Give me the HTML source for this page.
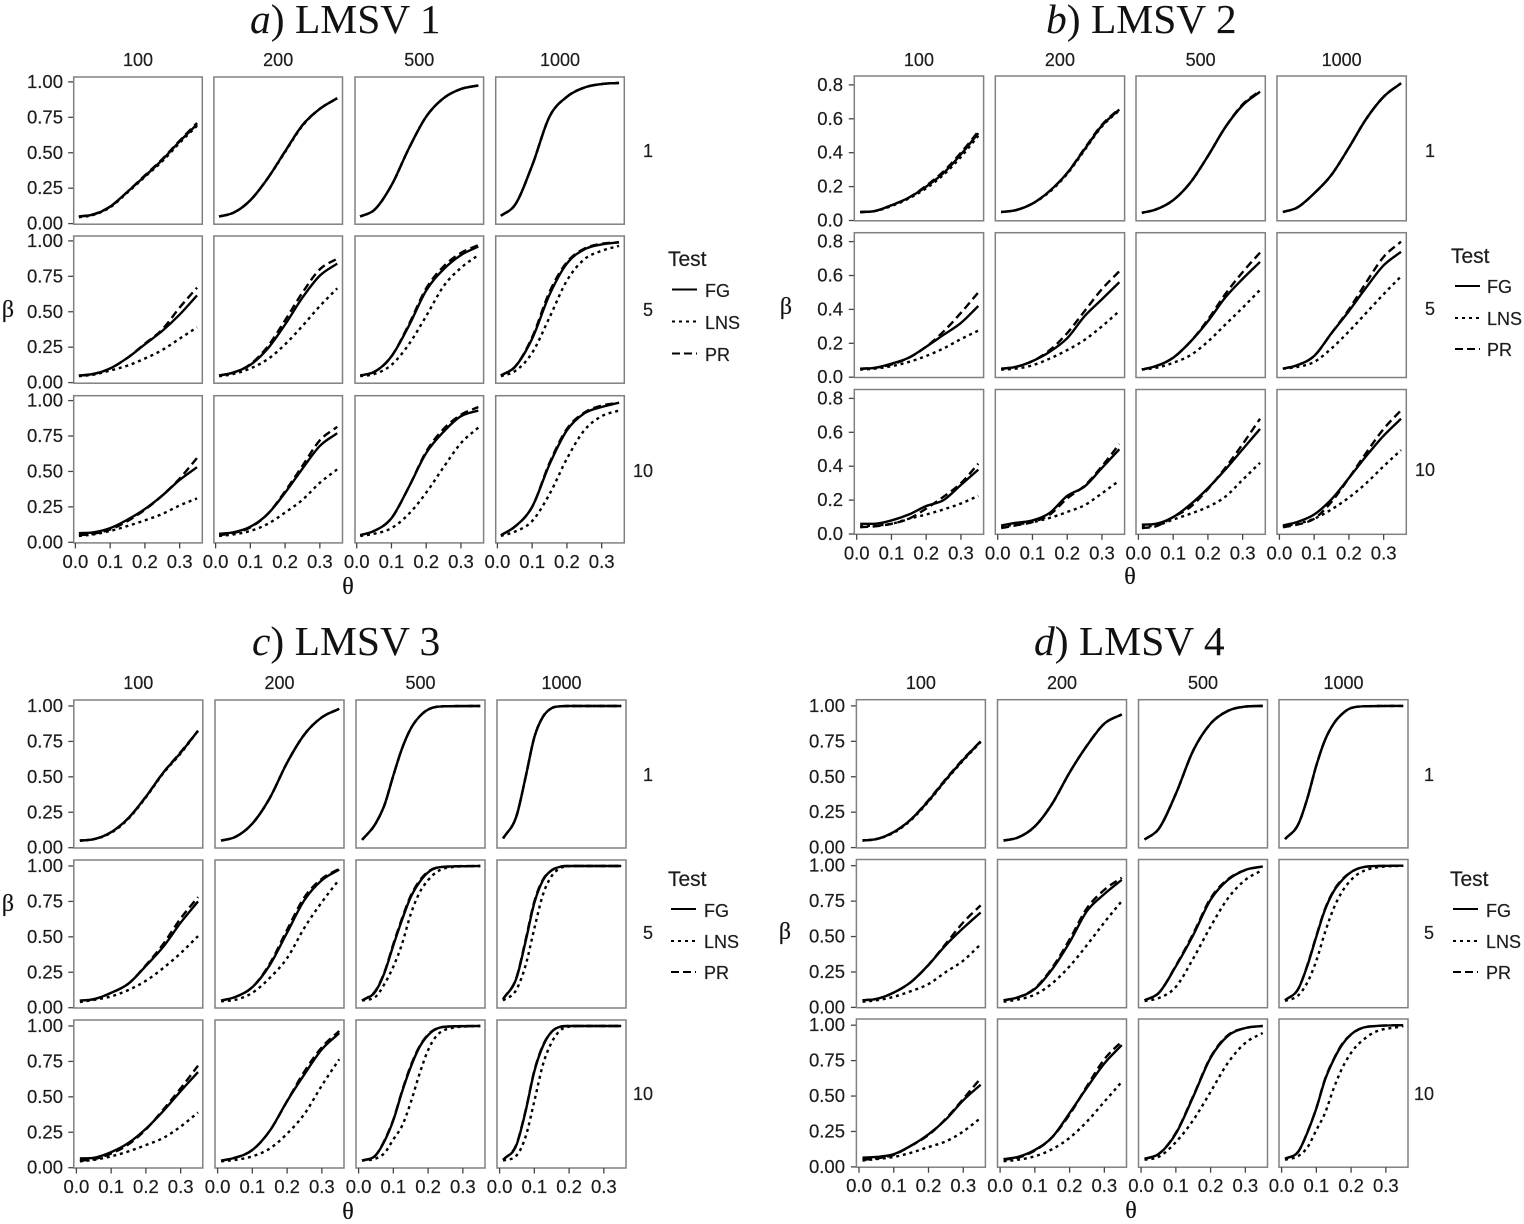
<!DOCTYPE html>
<html lang="en">
<head>
<meta charset="utf-8">
<title>LMSV power curves</title>
<style>
html,body{margin:0;padding:0;background:#fff;}
#chart{display:block;width:1524px;height:1224px;background:#fff;}
text{font-family:"Liberation Sans",sans-serif;fill:#1c1c1c;stroke:#1c1c1c;stroke-width:.2;}
.ttl{font-family:"Liberation Serif",serif;font-size:41.5px;fill:#111;stroke:none;}
.ser{font-family:"Liberation Serif",serif;font-size:24px;fill:#111;}
.leg{font-size:18px;}
.legt{font-size:21px;}
</style>
</head>
<body>
<svg id="chart" xmlns="http://www.w3.org/2000/svg" width="1524" height="1224" viewBox="0 0 1524 1224">
  <text class="ttl" x="250" y="33"><tspan font-style="italic">a</tspan>) LMSV 1</text>
  <text class="ttl" x="1046" y="33"><tspan font-style="italic">b</tspan>) LMSV 2</text>
  <text class="ttl" x="252" y="655"><tspan font-style="italic">c</tspan>) LMSV 3</text>
  <text class="ttl" x="1034" y="655"><tspan font-style="italic">d</tspan>) LMSV 4</text>

  <text class="ser" x="8" y="317" text-anchor="middle">β</text>
  <text class="ser" x="786" y="314" text-anchor="middle">β</text>
  <text class="ser" x="8" y="911" text-anchor="middle">β</text>
  <text class="ser" x="785" y="939" text-anchor="middle">β</text>
  <text class="ser" x="348" y="594" text-anchor="middle">θ</text>
  <text class="ser" x="1130" y="584" text-anchor="middle">θ</text>
  <text class="ser" x="348" y="1219" text-anchor="middle">θ</text>
  <text class="ser" x="1131" y="1218" text-anchor="middle">θ</text>

  <g>
    <text class="legt" x="668" y="266">Test</text>
    <line x1="672" x2="697" y1="289.5" y2="289.5" stroke="#000" stroke-width="2"/>
    <text class="leg" x="705" y="297">FG</text>
    <line x1="672" x2="697" y1="321.5" y2="321.5" stroke="#000" stroke-width="2" stroke-dasharray="3 4"/>
    <text class="leg" x="705" y="329">LNS</text>
    <line x1="672" x2="697" y1="353.5" y2="353.5" stroke="#000" stroke-width="2" stroke-dasharray="8 4"/>
    <text class="leg" x="705" y="361">PR</text>
  </g>
  <g>
    <text class="legt" x="1451" y="263">Test</text>
    <line x1="1455" x2="1480" y1="286" y2="286" stroke="#000" stroke-width="2"/>
    <text class="leg" x="1487" y="293">FG</text>
    <line x1="1455" x2="1480" y1="318" y2="318" stroke="#000" stroke-width="2" stroke-dasharray="3 4"/>
    <text class="leg" x="1487" y="325">LNS</text>
    <line x1="1455" x2="1480" y1="349" y2="349" stroke="#000" stroke-width="2" stroke-dasharray="8 4"/>
    <text class="leg" x="1487" y="356">PR</text>
  </g>
  <g>
    <text class="legt" x="668" y="886">Test</text>
    <line x1="671" x2="696" y1="909" y2="909" stroke="#000" stroke-width="2"/>
    <text class="leg" x="704" y="917">FG</text>
    <line x1="671" x2="696" y1="941" y2="941" stroke="#000" stroke-width="2" stroke-dasharray="3 4"/>
    <text class="leg" x="704" y="948">LNS</text>
    <line x1="671" x2="696" y1="972" y2="972" stroke="#000" stroke-width="2" stroke-dasharray="8 4"/>
    <text class="leg" x="704" y="979">PR</text>
  </g>
  <g>
    <text class="legt" x="1450" y="886">Test</text>
    <line x1="1453" x2="1478" y1="909" y2="909" stroke="#000" stroke-width="2"/>
    <text class="leg" x="1486" y="917">FG</text>
    <line x1="1453" x2="1478" y1="941" y2="941" stroke="#000" stroke-width="2" stroke-dasharray="3 4"/>
    <text class="leg" x="1486" y="948">LNS</text>
    <line x1="1453" x2="1478" y1="972" y2="972" stroke="#000" stroke-width="2" stroke-dasharray="8 4"/>
    <text class="leg" x="1486" y="979">PR</text>
  </g>
</svg>
<script>
// Theta grids: series with 8 values use thetaCoarse, series with 10 values use thetaFine.
const thetaCoarse = [0.01,0.05,0.10,0.15,0.20,0.25,0.30,0.35];
const thetaFine = [0.01,0.05,0.075,0.10,0.125,0.15,0.175,0.20,0.25,0.35];
const sampleSizes = ["100","200","500","1000"];
const stationLabels = ["1","5","10"];
const xTicks = [0,0.1,0.2,0.3];
const xTickLabels = ["0.0","0.1","0.2","0.3"];
const yTicksUnit = [0,0.25,0.5,0.75,1];
const yTickLabelsUnit = ["0.00","0.25","0.50","0.75","1.00"];
const yTicksB = [0,0.2,0.4,0.6,0.8];
const yTickLabelsB = ["0.0","0.2","0.4","0.6","0.8"];

// Each array: 12 series, row by row (1, 5, 10), columns 100, 200, 500, 1000.
const aFG = [
[.05,.063,.12,.225,.335,.45,.58,.70],
[.05,.075,.165,.32,.51,.695,.81,.885],
[.05,.095,.27,.53,.755,.885,.95,.975],
[.055,.13,.41,.755,.895,.96,.985,.993],
[.05,.06,.10,.175,.27,.365,.48,.615],
[.05,.07,.125,.24,.41,.60,.755,.84],
[.05,.075,.185,.40,.65,.80,.90,.96],
[.05,.11,.31,.62,.84,.94,.975,.99],
[.065,.07,.10,.16,.235,.33,.44,.53],
[.06,.07,.11,.20,.35,.52,.68,.77],
[.05,.08,.17,.39,.63,.78,.89,.93],
[.05,.11,.25,.55,.79,.91,.955,.985]];
const aLNS = [
[.045,.06,.115,.22,.33,.44,.57,.69],
[.05,.075,.165,.32,.505,.69,.81,.885],
[.05,.095,.27,.53,.755,.885,.95,.975],
[.055,.13,.41,.755,.895,.96,.985,.993],
[.045,.055,.085,.12,.17,.23,.31,.39],
[.045,.06,.10,.165,.27,.40,.54,.665],
[.045,.06,.125,.27,.47,.68,.81,.90],
[.045,.08,.21,.46,.72,.87,.93,.965],
[.045,.055,.08,.115,.155,.20,.26,.31],
[.045,.055,.08,.13,.21,.30,.42,.515],
[.045,.06,.10,.20,.35,.53,.70,.81],
[.045,.075,.15,.34,.59,.79,.89,.93]];
const aPR = [
[.05,.065,.12,.225,.34,.455,.585,.71],
[.05,.075,.165,.32,.51,.695,.81,.885],
[.05,.095,.27,.53,.755,.885,.95,.975],
[.055,.13,.41,.755,.895,.96,.985,.993],
[.05,.06,.10,.175,.275,.375,.53,.67],
[.05,.07,.13,.255,.44,.635,.80,.875],
[.05,.075,.185,.41,.665,.82,.915,.97],
[.05,.11,.32,.64,.85,.945,.98,.99],
[.05,.06,.09,.15,.23,.33,.45,.595],
[.05,.065,.105,.20,.36,.54,.72,.815],
[.05,.08,.17,.39,.64,.80,.90,.955],
[.05,.11,.25,.56,.80,.915,.965,.985]];

const bFG = [
[.05,.055,.09,.135,.20,.28,.39,.515],
[.05,.06,.10,.175,.28,.42,.56,.655],
[.045,.065,.12,.225,.38,.55,.68,.76],
[.05,.075,.16,.27,.43,.60,.73,.81],
[.05,.055,.08,.115,.18,.25,.32,.42],
[.05,.06,.095,.15,.23,.36,.46,.56],
[.045,.065,.115,.21,.33,.47,.58,.68],
[.05,.07,.125,.26,.39,.53,.66,.74],
[.06,.06,.08,.115,.165,.20,.29,.38],
[.05,.065,.08,.125,.225,.28,.39,.50],
[.055,.06,.10,.175,.27,.38,.50,.62],
[.05,.07,.115,.205,.33,.46,.58,.68]];
const bLNS = [
[.05,.055,.085,.13,.19,.27,.375,.50],
[.05,.06,.10,.17,.275,.415,.555,.65],
[.045,.065,.12,.225,.38,.55,.68,.76],
[.05,.075,.16,.27,.43,.60,.73,.81],
[.045,.05,.065,.09,.125,.17,.225,.275],
[.045,.05,.07,.11,.16,.22,.30,.39],
[.045,.055,.085,.13,.21,.31,.41,.515],
[.05,.06,.09,.17,.27,.38,.49,.595],
[.045,.05,.06,.09,.115,.145,.18,.225],
[.045,.055,.07,.095,.13,.17,.24,.315],
[.045,.05,.085,.12,.16,.22,.32,.42],
[.045,.06,.09,.145,.215,.30,.40,.495]];
const bPR = [
[.05,.055,.09,.135,.205,.29,.40,.525],
[.05,.06,.10,.175,.28,.425,.565,.66],
[.045,.065,.12,.225,.38,.55,.685,.765],
[.05,.075,.16,.27,.43,.60,.73,.81],
[.05,.055,.075,.115,.18,.27,.38,.50],
[.05,.06,.095,.16,.26,.39,.52,.625],
[.045,.065,.115,.21,.34,.49,.62,.735],
[.05,.07,.125,.26,.40,.56,.71,.80],
[.04,.045,.06,.09,.15,.22,.30,.415],
[.035,.05,.07,.115,.21,.285,.40,.53],
[.035,.045,.10,.16,.265,.39,.53,.68],
[.04,.055,.09,.19,.33,.48,.62,.73]];

const cFG = [
[.05,.06,.11,.21,.36,.53,.67,.825],
[.05,.075,.17,.35,.60,.80,.92,.98],
[.055,.175,.305,.51,.70,.84,.925,.975,.998,1],
[.065,.235,.50,.78,.925,.985,.998,1,1,1],
[.05,.06,.105,.17,.295,.43,.60,.75],
[.05,.075,.145,.30,.53,.76,.90,.975],
[.05,.12,.25,.44,.62,.78,.885,.955,.995,1],
[.06,.22,.47,.74,.90,.97,.995,1,1,1],
[.065,.07,.11,.175,.275,.40,.54,.675],
[.05,.07,.125,.26,.47,.66,.835,.95],
[.05,.09,.19,.335,.535,.71,.85,.935,.995,1],
[.055,.17,.40,.68,.86,.96,.995,1,1,1]];
const cLNS = [
[.05,.06,.105,.205,.355,.525,.665,.825],
[.05,.075,.17,.35,.60,.80,.92,.98],
[.055,.175,.305,.51,.70,.84,.925,.975,.998,1],
[.065,.235,.50,.78,.925,.985,.998,1,1,1],
[.04,.055,.08,.125,.19,.28,.385,.505],
[.045,.055,.105,.21,.35,.565,.745,.905],
[.05,.08,.17,.29,.45,.66,.81,.90,.985,1],
[.05,.135,.30,.56,.80,.93,.985,.998,1,1],
[.045,.055,.08,.115,.16,.21,.29,.39],
[.045,.055,.08,.135,.24,.38,.58,.765],
[.05,.065,.105,.20,.295,.46,.66,.83,.975,1],
[.05,.09,.22,.47,.73,.885,.97,.995,1,1]];
const cPR = [
[.05,.06,.11,.21,.36,.53,.675,.825],
[.05,.075,.17,.35,.60,.80,.92,.98],
[.055,.175,.305,.51,.70,.84,.925,.975,.998,1],
[.065,.235,.50,.78,.925,.985,.998,1,1,1],
[.05,.06,.105,.17,.30,.45,.63,.78],
[.05,.075,.145,.31,.55,.78,.91,.98],
[.05,.125,.255,.45,.63,.79,.895,.96,.995,1],
[.06,.225,.48,.75,.905,.97,.995,1,1,1],
[.05,.06,.10,.165,.27,.41,.56,.72],
[.05,.07,.125,.26,.47,.68,.85,.965],
[.05,.09,.195,.34,.54,.72,.855,.94,.995,1],
[.055,.175,.405,.685,.865,.96,.995,1,1,1]];

const dFG = [
[.05,.06,.11,.20,.33,.48,.62,.75],
[.05,.07,.15,.31,.53,.72,.875,.94],
[.057,.13,.38,.685,.875,.965,.995,1],
[.06,.175,.355,.58,.76,.875,.945,.985,.998,1],
[.05,.06,.105,.18,.30,.44,.56,.67],
[.05,.07,.13,.27,.46,.68,.80,.90],
[.05,.10,.29,.51,.76,.90,.97,.995],
[.05,.14,.30,.50,.69,.82,.90,.955,.995,1],
[.065,.07,.09,.15,.23,.335,.47,.58],
[.055,.07,.12,.21,.38,.56,.73,.86],
[.057,.09,.235,.495,.77,.925,.98,.995],
[.057,.115,.247,.413,.615,.757,.865,.935,.99,1]];
const dLNS = [
[.05,.06,.105,.195,.325,.475,.615,.745],
[.05,.07,.15,.31,.53,.72,.875,.94],
[.057,.13,.38,.685,.875,.965,.995,1],
[.06,.175,.355,.58,.76,.875,.945,.985,.998,1],
[.04,.05,.075,.115,.165,.25,.33,.445],
[.04,.055,.09,.17,.29,.44,.60,.75],
[.045,.065,.145,.345,.57,.77,.90,.97],
[.045,.09,.18,.33,.53,.70,.82,.90,.975,1],
[.045,.055,.07,.10,.14,.18,.25,.345],
[.04,.05,.075,.125,.205,.32,.46,.60],
[.05,.07,.175,.33,.53,.735,.875,.945],
[.05,.08,.14,.26,.38,.555,.70,.805,.925,.995]];
const dPR = [
[.05,.06,.11,.20,.335,.485,.625,.75],
[.05,.07,.15,.31,.53,.72,.875,.94],
[.057,.13,.38,.685,.875,.965,.995,1],
[.06,.175,.355,.58,.76,.875,.945,.985,.998,1],
[.05,.06,.105,.18,.30,.45,.60,.72],
[.05,.07,.135,.28,.48,.70,.83,.915],
[.05,.10,.295,.52,.77,.905,.97,.995],
[.05,.14,.305,.505,.695,.825,.905,.955,.995,1],
[.05,.06,.085,.15,.225,.34,.48,.625],
[.05,.065,.115,.21,.37,.57,.76,.885],
[.057,.09,.24,.50,.775,.93,.98,.995],
[.057,.115,.25,.415,.62,.76,.87,.935,.99,1]];

const SVG_NS = 'http://www.w3.org/2000/svg';
const chart = document.getElementById('chart');

const figures = [
  {key:'a', lefts:[73.7,213.9,355,495.7], tops:[77,236,395.7], w:128.6, h:147.2, yUnit:141.7, yOff:0.6,
   fg:aFG, lns:aLNS, pr:aPR, yt:yTicksUnit, ytl:yTickLabelsUnit, stripY:66, labelRight:63, rowText:[157,316,477], rowRight:653, xOff:1.7},
  {key:'b', lefts:[854.3,995.3,1136,1277], tops:[76,232.7,389.5], w:129.3, h:144.8, yUnit:169.5, yOff:0.3,
   fg:bFG, lns:bLNS, pr:bPR, yt:yTicksB, ytl:yTickLabelsB, stripY:66, labelRight:843, rowText:[157,315,476], rowRight:1435, xOff:2.4},
  {key:'c', lefts:[73.8,215,356,497], tops:[700,860,1020], w:129, h:148, yUnit:141.7, yOff:0.3,
   fg:cFG, lns:cLNS, pr:cPR, yt:yTicksUnit, ytl:yTickLabelsUnit, stripY:689, labelRight:63, rowText:[781,939,1100], rowRight:653, xOff:2.6},
  {key:'d', lefts:[856.4,997.5,1138.5,1279], tops:[699.7,859.5,1019], w:129, h:148.2, yUnit:141.7, yOff:0.3,
   fg:dFG, lns:dLNS, pr:dPR, yt:yTicksUnit, ytl:yTickLabelsUnit, stripY:689, labelRight:845, rowText:[781,939,1100], rowRight:1434, xOff:2.6}
];

const X_UNIT = 347.5;

function node(tag, attrs, parent){
  const e = document.createElementNS(SVG_NS, tag);
  for (const k in attrs) e.setAttribute(k, attrs[k]);
  parent.appendChild(e);
  return e;
}

// Monotone cubic path (weighted-mean tangents with Fritsch-Carlson limiter).
function smoothPath(xs, ys){
  const n = xs.length, d = [], m = [];
  for (let i = 0; i < n - 1; i++) d.push((ys[i+1]-ys[i])/(xs[i+1]-xs[i]));
  m[0] = d[0]; m[n-1] = d[n-2];
  for (let i = 1; i < n - 1; i++){
    const h0 = xs[i]-xs[i-1], h1 = xs[i+1]-xs[i];
    m[i] = d[i-1]*d[i] <= 0 ? 0 : (h1*d[i-1]+h0*d[i])/(h0+h1);
  }
  for (let i = 0; i < n - 1; i++){
    if (d[i] === 0){ m[i] = 0; m[i+1] = 0; continue; }
    const a = m[i]/d[i], b = m[i+1]/d[i], s = a*a+b*b;
    if (s > 9){ const t = 3/Math.sqrt(s); m[i] = t*a*d[i]; m[i+1] = t*b*d[i]; }
  }
  let p = 'M' + xs[0].toFixed(2) + ' ' + ys[0].toFixed(2);
  for (let i = 0; i < n - 1; i++){
    const h = (xs[i+1]-xs[i])/3;
    p += 'C' + (xs[i]+h).toFixed(2) + ' ' + (ys[i]+m[i]*h).toFixed(2) + ' ' +
         (xs[i+1]-h).toFixed(2) + ' ' + (ys[i+1]-m[i+1]*h).toFixed(2) + ' ' +
         xs[i+1].toFixed(2) + ' ' + ys[i+1].toFixed(2);
  }
  return p;
}

figures.forEach(function(f){
  const group = node('g', {}, chart);
  
  

  sampleSizes.forEach(function(label, c){
    const t = node('text', {x: f.lefts[c] + f.w/2, y: f.stripY, 'text-anchor':'middle', 'font-size':'18'}, group);
    t.textContent = label;
    
    
  });

  stationLabels.forEach(function(label, r){
    const t = node('text', {x: f.rowRight, y: f.rowText[r], 'text-anchor':'end', 'font-size':'18'}, group);
    t.textContent = label;
    
    
  });

  f.tops.forEach(function(top, r){
    const bottom = top + f.h;
    const yScale = function(v){ return bottom - f.yOff - v * f.yUnit; };

    f.yt.forEach(function(v, i){
      const y = yScale(v);
      const tick = node('line', {x1: f.lefts[0]-5.5, x2: f.lefts[0], y1: y, y2: y, stroke:'#444', 'stroke-width':'1.3'}, group);
      
      
      const lab = node('text', {x: f.labelRight, y: y + 6, 'text-anchor':'end', 'font-size':'18.5'}, group);
      lab.textContent = f.ytl[i];
      
      
    });

    f.lefts.forEach(function(left, c){
      const idx = r * 4 + c;
      const xScale = function(th){ return left + f.xOff + th * X_UNIT; };

      const panel = node('rect', {x: left, y: top, width: f.w, height: f.h, fill:'#fff', stroke:'#808080', 'stroke-width':'1.5'}, group);
      
      

      const styles = [
        {arr: f.fg, dash: null, name: 'fg'},
        {arr: f.lns, dash: '3 3.8', name: 'lns'},
        {arr: f.pr, dash: '8 4.5', name: 'pr'}
      ];
      styles.forEach(function(s){
        const vals = s.arr[idx];
        const grid = vals.length === 10 ? thetaFine : thetaCoarse;
        const path = node('path', {d: smoothPath(grid.map(xScale), vals.map(yScale)), fill:'none', stroke:'#000', 'stroke-width':'2.4'}, group);
        if (s.dash) path.setAttribute('stroke-dasharray', s.dash);
        
        
      });

      if (r === 2){
        xTicks.forEach(function(v, i){
          const x = xScale(v);
          const tick = node('line', {x1: x, x2: x, y1: bottom, y2: bottom + 5.5, stroke:'#444', 'stroke-width':'1.3'}, group);
          
          
          const lab = node('text', {x: x, y: bottom + 25, 'text-anchor':'middle', 'font-size':'18.5'}, group);
          lab.textContent = xTickLabels[i];
          
          
        });
      }
    });
  });
});
</script>
</body>
</html>
